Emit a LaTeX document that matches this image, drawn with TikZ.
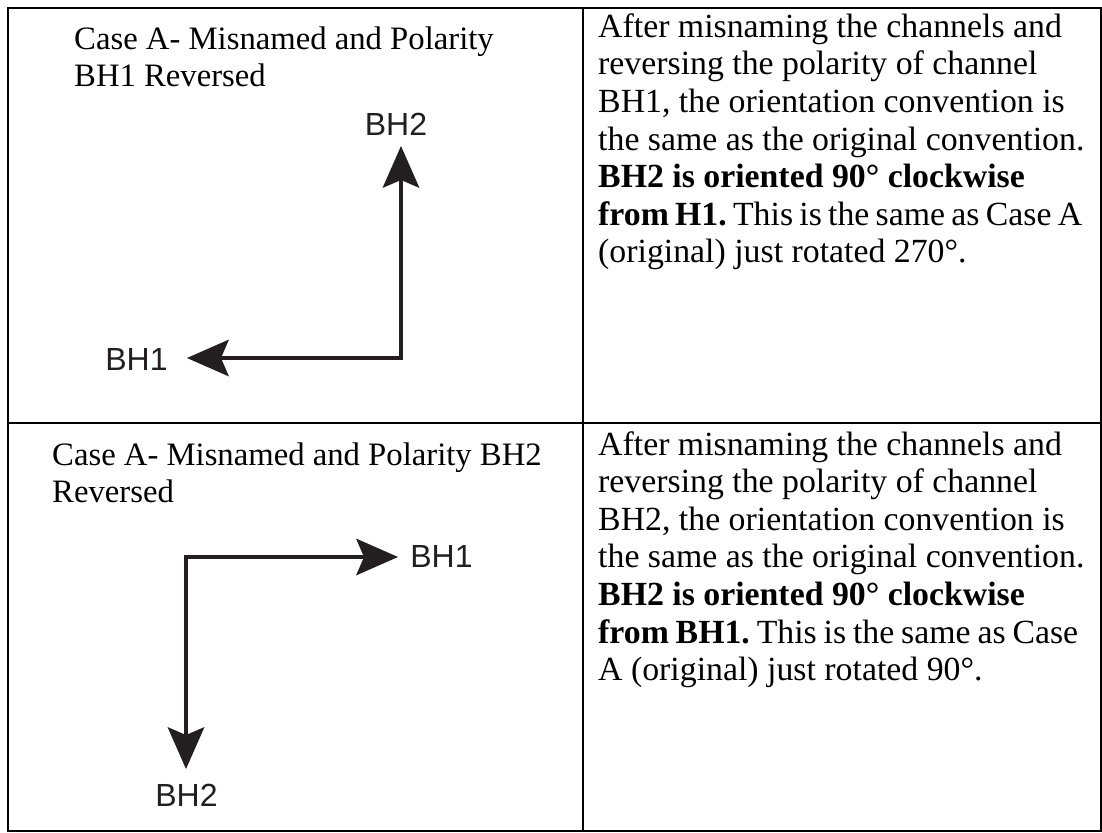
\documentclass[tikz,border=0pt]{standalone}
\usepackage{fontspec}
\setmainfont{Liberation Serif}
\newfontfamily\labelfont{Liberation Sans}
\usetikzlibrary{arrows.meta}
\definecolor{ink}{HTML}{231F20}
\frenchspacing
\begin{document}
\begin{tikzpicture}[x=1pt,y=-1pt,
  gridline/.style={line width=2.2pt, draw=black},
  lbl/.style={inner sep=0pt, text=ink, font=\labelfont\fontsize{32}{36}\selectfont},
  bodytext/.style={inner sep=0pt, anchor=base west, font=\frenchspacing\fontsize{33.8}{37.6}\selectfont},
  titletext/.style={inner sep=0pt, anchor=base west, font=\frenchspacing\fontsize{32.7}{37}\selectfont},
  axisarrow/.style={line width=4pt, draw=ink, line join=miter,
    arrows={Stealth[length=42pt,width=37pt,inset=8pt,line width=0pt]-Stealth[length=42pt,width=37pt,inset=8pt,line width=0pt]}}
]
\useasboundingbox (0,0) rectangle (1102,832);
\fill[white] (0,0) rectangle (1102,832);

% table grid
\draw[gridline] (8,8) rectangle (1101,831);
\draw[gridline] (583,8) -- (583,831);
\draw[gridline] (8,423) -- (1101,423);

% row 1, left cell
\node[titletext] (title1) at (74,50) {\begin{tabular}[t]{@{}l@{}}Case A- Misnamed and Polarity\\BH1 Reversed\end{tabular}};
\node[lbl] (up1) at (396,124) {BH2};
\node[lbl] (left1) at (136.5,359) {BH1};
\coordinate (corner1) at (401,358);
\coordinate (tipup1) at (401,146);
\coordinate (tipleft1) at (187,358);
\draw[axisarrow] (tipleft1) -- (corner1) -- (tipup1);

% row 1, right cell
\node[bodytext] (text1) at (598,37.3) {\begin{tabular}[t]{@{}l@{}}After misnaming the channels and\\
reversing the polarity of channel\\
BH1, the orientation convention is\\
the same as the original convention.\\
\textbf{BH2 is oriented 90° clockwise}\\
\hbox to 484pt{\textbf{from H1.} This is the same as Case A}\\
(original) just rotated 270°.\end{tabular}};

% row 2, left cell
\node[titletext] (title2) at (52,465) {\begin{tabular}[t]{@{}l@{}}Case A- Misnamed and Polarity BH2\\Reversed\end{tabular}};
\node[lbl] (right2) at (441.5,556) {BH1};
\node[lbl] (down2) at (186.5,795) {BH2};
\coordinate (corner2) at (186,557);
\coordinate (tipright2) at (398,557);
\coordinate (tipdown2) at (186,769);
\draw[axisarrow] (tipright2) -- (corner2) -- (tipdown2);

% row 2, right cell
\node[bodytext] (text2) at (598,455) {\begin{tabular}[t]{@{}l@{}}After misnaming the channels and\\
reversing the polarity of channel\\
BH2, the orientation convention is\\
the same as the original convention.\\
\textbf{BH2 is oriented 90° clockwise}\\
\hbox to 480pt{\textbf{from BH1.} This is the same as Case}\\
A (original) just rotated 90°.\end{tabular}};
\end{tikzpicture}
\end{document}
